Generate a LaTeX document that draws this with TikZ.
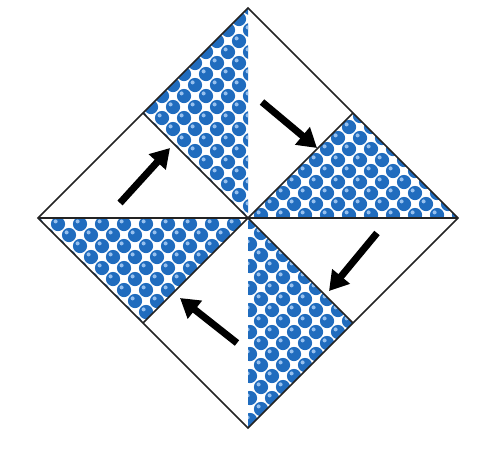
\documentclass[tikz,border=0pt]{standalone}
\usetikzlibrary{arrows.meta}
\definecolor{ballblue}{RGB}{32,108,190}
\definecolor{balllight}{RGB}{150,192,238}
\definecolor{edgegray}{RGB}{35,35,35}
\tikzset{
  edge/.style={draw=edgegray,line width=1.6pt,line join=miter},
  bigarrow/.style={line width=7pt,-{Triangle[length=19pt,width=22pt]}},
}
\newcommand\ballgrid[4]{%
  \foreach \j in {0,...,#4}{%
    \foreach \i in {0,...,#3}{%
      \pgfmathsetmacro\bx{#1+22*\i+11*mod(\j,2)}%
      \pgfmathsetmacro\by{#2+11*\j}%
      \fill[ballblue] (\bx,\by) circle[radius=7.1pt];%
      \fill[balllight] (\bx-2.4,\by-2.6) circle[radius=2pt];%
    }}}
\begin{document}
\begin{tikzpicture}[x=1pt,y=-1pt]
\useasboundingbox (0,0) rectangle (500,456);
\coordinate (T) at (248,8);
\coordinate (R) at (458,218);
\coordinate (B) at (248,428);
\coordinate (L) at (38,218);
\coordinate (C) at (248,218);
\coordinate (MTL) at (143,113);
\coordinate (MTR) at (353,113);
\coordinate (MBR) at (353,323);
\coordinate (MBL) at (143,323);
% hatched triangles
\begin{scope}
  \clip (T) -- (MTL) -- (C) -- cycle;
  \ballgrid{140}{8}{5}{20}
\end{scope}
\begin{scope}
  \clip (MTR) -- (R) -- (C) -- cycle;
  \ballgrid{250}{116}{10}{10}
\end{scope}
\begin{scope}
  \clip (C) -- (MBR) -- (B) -- cycle;
  \ballgrid{250}{222}{5}{20}
\end{scope}
\begin{scope}
  \clip (L) -- (C) -- (MBL) -- cycle;
  \ballgrid{36}{224}{10}{10}
\end{scope}
% outlines
\draw[edge] (T) -- (R) -- (B) -- (L) -- cycle;
\draw[edge] (MTL) -- (MBR);
\draw[edge] (MTR) -- (MBL);
\draw[edge] (L) -- (R);
% arrows
\coordinate (a1s) at (120,203); \coordinate (a1e) at (170,148);
\coordinate (a2s) at (262,102); \coordinate (a2e) at (317,148);
\coordinate (a3s) at (377,233); \coordinate (a3e) at (329,291);
\coordinate (a4s) at (237,343); \coordinate (a4e) at (180,298);
\draw[bigarrow] (a1s) -- (a1e);
\draw[bigarrow] (a2s) -- (a2e);
\draw[bigarrow] (a3s) -- (a3e);
\draw[bigarrow] (a4s) -- (a4e);
\end{tikzpicture}
\end{document}
